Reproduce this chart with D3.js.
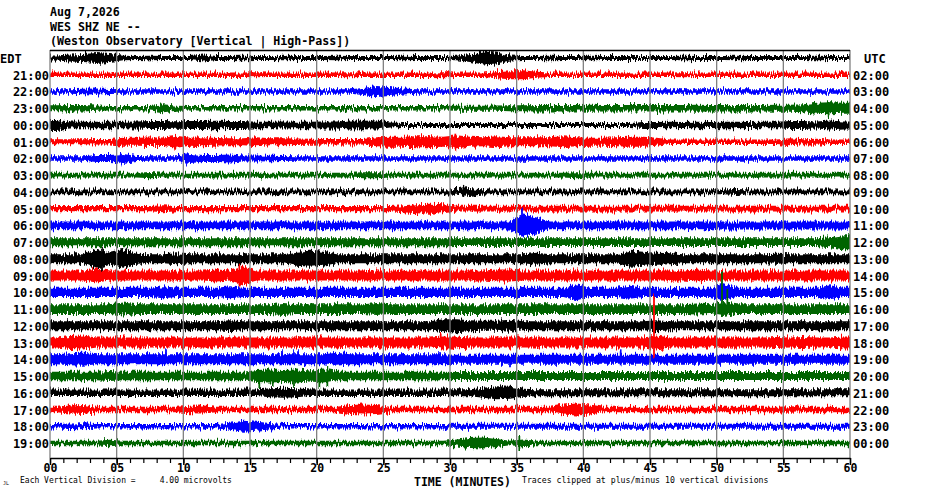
<!DOCTYPE html>
<html>
<head>
<meta charset="utf-8">
<script src="https://cdn.jsdelivr.net/npm/d3@7"></script>
<style>
  body { margin: 0; background: #fff; }
  text { font-family: "DejaVu Sans Mono", "Liberation Mono", monospace; }
</style>
</head>
<body>
<div id="chart"></div>
<script>
// header lines
const titleLines = ['Aug 7,2026', 'WES SHZ NE --', '(Weston Observatory [Vertical | High-Pass])'];

// hour labels, local (left) and UTC (right)
const edtLabels = ['EDT', '21:00', '22:00', '23:00', '00:00', '01:00', '02:00', '03:00', '04:00', '05:00', '06:00', '07:00',
  '08:00', '09:00', '10:00', '11:00', '12:00', '13:00', '14:00', '15:00', '16:00', '17:00', '18:00', '19:00'];
const utcLabels = ['UTC', '02:00', '03:00', '04:00', '05:00', '06:00', '07:00', '08:00', '09:00', '10:00', '11:00', '12:00',
  '13:00', '14:00', '15:00', '16:00', '17:00', '18:00', '19:00', '20:00', '21:00', '22:00', '23:00', '00:00'];

const traceColors = ['#000000', '#ff0000', '#0000ff', '#006400'];

// minute tick labels
const majorTicks = [0, 5, 10, 15, 20, 25, 30, 35, 40, 45, 50, 55, 60];
const minorTicks = [0, 1, 2, 3, 4, 5, 6, 7, 8, 9, 10, 11, 12, 13, 14, 15, 16, 17, 18, 19, 20, 21, 22, 23, 24, 25, 26, 27, 28, 29,
  30, 31, 32, 33, 34, 35, 36, 37, 38, 39, 40, 41, 42, 43, 44, 45, 46, 47, 48, 49, 50, 51, 52, 53, 54, 55, 56, 57, 58, 59, 60];

// half-amplitude of each trace, one value per minute
const amplitudes = [
  [2.5,3.5,4,5,4,2.2,2,2.3,2,2, 2,3.5,2,2,2.2,2,2,2.3,2,2, 2,2.2,2,2,2,2,2.2,2,2,2, 2.2,4,6.5,5.5,2.5,2,2,2.2,2,2, 2.2,2,2,2,2,2,2,2.2,2,2, 2,2.2,2,2,2,2,2,2.2,2,2],
  [2.3,2.3,2.3,2.3,2.3,2.3,2.3,2.3,2.3,2.3, 2.3,2.3,2.3,2.3,2.3,2.5,2.3,2.3,2.3,2.3, 2.3,2.3,2.5,2.3,2.3,2.3,2.3,2.3,2.3,2.5, 2.3,2.3,2.3,3.5,4.5,4.5,3,2.3,2.3,2.3, 2.3,2.3,2.3,2.3,2.3,2.3,2.3,2.5,2.3,2.3, 2.3,2.3,2.3,2.3,2.3,2.3,2.3,2.3,2.3,2.3],
  [2.2,2.2,2.8,3,2.5,2.2,2.2,2.2,2.2,2.2, 2.2,2.2,2.2,2.2,2.2,2.2,2.2,2.2,2.2,2.2, 2.2,2.2,2.2,3.5,5.5,4.5,3,2.2,2.2,2.2, 2.2,2.2,2.2,2.2,2.2,2.2,2.2,2.2,2.2,2.2, 2.2,2.2,2.2,2.2,2.2,2.2,2.2,2.2,2.2,2.2, 2.2,2.2,2.2,2.2,2.2,2.2,2.2,2.2,2.2,2.2],
  [3,3.2,3.2,2.6,2.3,2.3,2.3,2.3,4,2.5, 2.3,2.3,2.3,2.3,2.3,2.3,2.3,2.3,2.3,2.3, 2.3,2.3,2.3,2.3,2.3,2.3,2.3,2.3,2.3,2.3, 2.5,2.5,2.5,2.6,3,3,3.2,3.2,3.3,3.3, 3.5,3.3,3.3,3.3,3.3,3.3,3.3,3.3,3.5,3.3, 3.2,3.2,3.3,3.2,3.5,3.5,4,5.5,6,5.5],
  [5,3.5,3.3,3.2,3.3,3.2,3.5,4,4,3.8, 4,4,4.2,4,4,3.3,3.3,3.5,3.3,3.3, 3.5,3.5,4.5,4.2,4.5,2.5,2,2,2,2, 2,2,2,2,2,2,2,2,2,2, 2,2,2,2,3,3,3.2,3,3.2,3, 3.3,3.2,3,3.3,3.2,4,4,3.5,4.5,3.5],
  [2.5,2.5,2.5,2.8,2.8,4,4,4.2,4.2,6, 4,4.5,3.8,3.5,3.5,4.5,3.5,3.5,3.3,3, 2.8,2.8,2.8,2.8,4.5,5,5,5.5,5.5,5, 6.5,5,4.5,5.5,4.5,4.5,4.5,4.5,5.5,4.5, 4,4,4.5,5,5,4,2.3,2.3,2.3,2.3, 2.3,2.3,2.3,2.3,2.3,3.5,2.5,3,2.3,2.3],
  [2.3,2.3,2.3,3.5,3.5,4.5,2.5,2.3,2.3,2.3, 4.5,3.5,3.5,4,3,3,2.8,2.5,2.3,2.3, 2.2,2.2,2.2,2.2,2.2,2.2,2.2,2.2,2.2,2.2, 2.2,2.2,2.2,2.2,2.2,2.2,2.2,2.2,2.2,2.2, 2.2,2.2,2.2,2.2,2.2,2.2,2.2,2.2,2.2,2.2, 2.2,2.2,2.2,2.2,2.2,2.2,2.2,2.2,2.2,2.2],
  [2.3,2.3,2.3,2.3,2.3,2.3,2.3,3.2,2.3,2.3, 2.3,2.3,2.3,2.3,2.3,2.3,2.3,2.3,2.3,2.3, 2.3,2.3,2.3,3,3,2.3,2.3,2.3,2.3,2.3, 2.3,2.3,2.3,2.3,2.3,2.3,2.3,2.3,2.3,3, 2.3,2.3,2.3,2.3,2.3,2.3,2.3,2.3,2.3,2.3, 2.3,2.3,2.3,2.3,2.3,2.3,2.3,2.3,2.3,2.3],
  [2.3,2.3,2.3,2.3,2.3,2.3,2.3,2.3,2.3,2.3, 2.3,2.3,2.3,2.3,2.3,2.3,2.3,2.3,2.3,2.3, 2.3,2.3,2.3,2.3,2.3,2.3,2.3,2.3,2.3,2.3, 2.8,4,2.5,2.3,2.3,2.3,2.3,2.3,2.3,2.3, 2.3,2.3,2.3,2.3,2.3,2.3,2.3,2.3,2.3,2.3, 2.3,3,2.3,2.3,2.3,2.3,2.3,2.3,2.3,2.3],
  [2.6,2.6,2.6,2.6,2.6,2.6,2.6,2.6,3.5,2.6, 2.6,2.6,2.6,2.6,2.6,2.6,2.6,2.6,2.6,2.6, 2.6,2.6,2.6,2.6,2.6,2.6,3.5,4.5,5,4.5, 2.8,2.8,2.8,2.8,2.8,2.8,2.8,2.8,2.8,2.8, 2.8,2.8,2.8,2.8,2.8,2.8,2.8,2.8,2.8,2.8, 2.8,2.8,2.8,2.8,2.8,2.8,2.8,2.8,2.8,2.8],
  [3.8,3.8,3.8,3.8,3.8,3.8,3.8,3.8,3.8,3.8, 3.8,3.8,3.8,3.8,3.8,3.8,3.8,3.8,3.8,3.8, 3.8,3.8,3.8,3.8,3.8,3.8,3.8,3.8,3.8,3.8, 3.8,3.8,3.8,3.8,4,11,8,3.8,3.8,3.8, 3.8,3.8,3.8,3.8,3.8,3.8,3.8,3.8,3.8,3.8, 4,4,4,4,4,4,4,4,4,4],
  [4,4,4,4,4,4,4,4,4,4, 4,4,4,4,4,4,4,4,4,4, 4,4,4,4,4,4,4,4,4,4, 3.8,3.8,3.8,3.8,3.8,3.8,3.8,3.8,3.8,3.8, 3.8,3.8,3.8,3.8,3.8,3.8,3.8,3.8,3.8,3.8, 3.8,3.8,3.8,3.8,3.8,3.8,3.8,3.8,5,7],
  [4.5,4.5,4.5,10,6,9,5,4.5,4.5,5.5, 4.5,4.5,4.5,4.5,4.5,4.5,4.5,4.5,7,8, 7,4.5,4.5,4.5,4.5,4.5,4.5,4.5,4.5,4.5, 4.5,4.5,4.5,4.5,4.5,4.5,6,4.5,4.5,4.5, 4.5,4.5,4.5,8,7,6,5.5,4.5,4.5,4.5, 4.5,4.5,4.5,4.5,5,4.5,4.5,4.5,4.5,4.5],
  [5,5,5,7,5,5,5,5,5,5, 5,5,6,5,9,5,5,5,5,5, 5,5,5,5,5,5,5,5,5,5, 5,5,5,6,6,5,5,5,5,5, 5,5,5,5,5,5,5,5,6,5, 5,5,5,5,5,5,5,5,5,5],
  [4.7,4.7,4.7,4.7,4.7,4.7,4.7,4.7,6,4.7, 4.7,4.7,4.7,6,4.7,4.7,4.7,4.7,4.7,4.7, 4.7,4.7,4.7,4.7,4.7,4.7,4.7,4.7,4.7,4.7, 4.7,4.7,4.7,4.7,4.7,4.7,4.7,4.7,4.7,8, 4.7,4.7,4.7,6.5,4.7,4.7,4.7,4.7,4.7,4.7, 8,4.7,4.7,4.7,4.7,4.7,4.7,4.7,7,4.7],
  [4.8,4.8,4.8,4.8,4.8,6.5,4.8,4.8,4.8,4.8, 4.8,4.8,4.8,4.8,4.8,4.8,4.8,6,4.8,4.8, 4.8,4.8,4.8,4.8,6,4.8,4.8,4.8,4.8,4.8, 4.8,4.8,4.8,4.8,4.8,4.8,4.8,4.8,4.8,4.8, 4.8,4.8,4.8,4.8,4.8,4.8,4.8,4.8,5.5,4.8, 7,4.8,4.8,4.8,4.8,4.8,4.8,4.8,4.8,4.8],
  [4.5,4.5,4.5,4.5,4.5,4.5,4.5,4.5,4.5,4.5, 4.5,4.5,4.5,5.5,4.5,4.5,4.5,4.5,4.5,4.5, 4.5,4.5,4.5,4.5,4.5,4.5,4.5,4.5,4.5,6.5, 6.5,5.5,5,5,6,4.5,4.5,4.5,4.5,4.5, 4.5,4.5,4.5,4.5,4.5,5.5,4.5,4.5,4.5,4.5, 4.5,4.5,4.5,4.5,4.5,4.5,4.5,4.5,4.5,4.5],
  [5,6.5,7,5,5,5,5,5,5,5, 5,5,5,5,5,5,5,5,5,5, 5,5,5,5,5,5,5,5,5,6, 6,5,5,5,5,5,5,5,5,5, 5,5,5,5,5,7,5,5,5,5, 5,5,5,5,5.5,5,5.5,5,5,6],
  [5,6,6.5,5,5,5,5,5,5,5, 5,5,5,5,5,5,5,5,5,5, 5,6.5,5,5,5,5,5,5,5,5, 4.5,4.5,4.5,4.5,4.5,4.5,4.5,4.5,4.5,4.5, 4.5,4.5,4.5,4.5,4.5,4.5,4.5,4.5,4.5,4.5, 4.5,4.5,4.5,4.5,4.5,4.5,4.5,4.5,4.5,4.5],
  [4.3,4.3,4.3,4.3,5,4.3,4.3,4.3,4.3,4.3, 4.3,4.3,4.3,4.3,4.3,6,6.5,6,6.5,5.5, 6.5,4.3,4.3,4.3,4.3,4.3,4.3,4.3,4.3,4.3, 4,4,4,4,4,4,4,4,4,4, 4,4,4,4,4,4,4,4,4,4, 4,4,4,4,4,4,4,4,4,4],
  [3.3,3.3,3.3,3.3,3.3,3.3,3.3,3.3,3.3,3.3, 3.3,3.3,3.3,3.3,3.3,3.3,4.5,5,4.5,3.3, 3.3,3.3,3.3,3.3,3.3,3.3,3.3,3.3,3.3,3.3, 3.5,3.5,5,6.5,6,4,3.5,3.5,3.5,3.5, 3.5,3.5,3.5,3.5,3.5,3.5,3.5,3.5,3.5,3.5, 3.5,3.5,3.5,3.5,3.5,3.5,3.5,3.5,3.5,3.5],
  [2.8,4,4.5,2.8,2.8,2.8,2.8,2.8,2.8,2.8, 3.8,4,2.8,2.8,2.8,2.8,2.8,2.8,2.8,2.8, 2.8,2.8,4.5,5,4.5,2.8,2.8,2.8,2.8,2.8, 2.8,2.8,2.8,2.8,2.8,2.8,2.8,2.8,5,6, 5,2.8,2.8,2.8,2.8,2.8,2.8,2.8,2.8,2.8, 2.8,2.8,2.8,2.8,2.8,3.3,2.8,2.8,2.8,2.8],
  [2.3,2.8,3,2.3,2.3,2.3,2.3,2.3,2.3,2.3, 2.3,2.3,2.3,3.5,5.5,4.5,3.3,2.3,2.3,2.3, 2.3,2.3,2.3,2.3,2.3,2.3,2.3,2.3,2.3,2.3, 2.5,2.5,2.5,2.5,2.5,2.5,2.5,2.5,2.5,2.5, 2.5,2.5,2.5,2.5,2.5,2.5,2.5,2.5,2.5,2.5, 2.5,2.5,2.5,2.5,2.5,2.5,2.5,2.5,2.5,2.5],
  [2.3,2.3,2.3,2.3,3.2,2.3,2.3,2.3,2.3,2.3, 2.3,2.3,2.3,2.3,2.3,2.3,2.3,2.3,2.3,2.3, 2.3,2.3,2.3,2.3,2.3,2.3,2.3,2.3,2.3,2.3, 3.5,5,5.5,4,2.3,3.5,2.3,2.3,2.3,2.3, 2.3,2.3,2.3,2.3,2.3,2.3,2.3,2.3,2.3,2.3, 2.3,2.3,2.3,2.3,2.3,2.3,2.3,2.3,2.3,2.3]
];

// sharp single spikes: [row, minute, up, down]
const spikes = [
  [3, 58.4, 6, 9], [5, 9.4, 5, 8], [5, 30.4, 8, 9], [6, 5.3, 5, 6], [6, 10.2, 5, 6], [8, 31, 6, 5],
  [10, 35.4, 18, 11], [12, 3.9, 12, 12], [12, 5.7, 10, 9], [13, 14.2, 13, 11], [14, 50.3, 9, 7],
  [15, 50.4, 36, 6], [15, 50.8, 20, 6], [17, 29.3, 9, 5], [17, 45.3, 48, 15],
  [18, 8.7, 9, 5], [18, 17.4, 8, 4], [18, 18.3, 9, 4], [18, 18.6, 8, 4], [18, 34.5, 4, 8], [18, 42.8, 9, 7],
  [19, 15.7, 6, 12], [19, 16.7, 6, 10], [19, 18.3, 5, 11], [19, 20.2, 6, 12], [19, 20.8, 9, 10],
  [23, 35.2, 7, 6]
];

const svg = d3.select('#chart')
  .append('svg')
  .attr('width', 930)
  .attr('height', 494);

// rough edges for the traces
const filter = svg.append('defs').append('filter')
  .attr('id', 'jag')
  .attr('filterUnits', 'userSpaceOnUse')
  .attr('x', 0).attr('y', 0).attr('width', 930).attr('height', 494)
  .attr('color-interpolation-filters', 'sRGB');
filter.append('feTurbulence')
  .attr('type', 'fractalNoise')
  .attr('baseFrequency', '1.3 0.05')
  .attr('numOctaves', 2)
  .attr('seed', 4)
  .attr('result', 'n');
filter.append('feColorMatrix')
  .attr('in', 'n')
  .attr('type', 'matrix')
  .attr('values', '0 0 0 0 0.5  0 1 0 0 0  0 0 0 0 0  0 0 0 0 1')
  .attr('result', 'm');
filter.append('feDisplacementMap')
  .attr('in', 'SourceGraphic')
  .attr('in2', 'm')
  .attr('scale', 9)
  .attr('xChannelSelector', 'R')
  .attr('yChannelSelector', 'G');

const x = d3.scaleLinear().domain([0, 60]).range([50, 850]);
const y = d3.scaleLinear().domain([0, 23]).range([58, 443]);
const a = d3.scaleLinear().domain([0, 10]).range([0, 10]);
const color = i => traceColors[i % 4];

// header
svg.selectAll('.title')
  .data(titleLines)
  .join('text')
  .attr('class', 'title')
  .attr('x', 50)
  .attr('y', (d, i) => 16 + i * 14.5)
  .attr('font-size', 11.6)
  .attr('font-weight', 'bold')
  .style('white-space', 'pre')
  .text(d => d);

// traces
const traces = svg.append('g').attr('filter', 'url(#jag)');
amplitudes.forEach((vals, r) => {
  const pts = [{ t: 0, v: vals[0] }]
    .concat(vals.map((v, i) => ({ t: i + 0.5, v })))
    .concat([{ t: 60, v: vals[vals.length - 1] }]);
  const area = d3.area()
    .x(d => x(d.t))
    .y0(d => y(r) + a(d.v))
    .y1(d => y(r) - a(d.v));
  traces.append('path')
    .datum(pts)
    .attr('d', area)
    .attr('fill', color(r));
});

traces.selectAll('.spike')
  .data(spikes)
  .join('line')
  .attr('class', 'spike')
  .attr('x1', d => x(d[1]))
  .attr('x2', d => x(d[1]))
  .attr('y1', d => y(d[0]) - a(d[2]))
  .attr('y2', d => y(d[0]) + a(d[3]))
  .attr('stroke', d => color(d[0]))
  .attr('stroke-width', 1.8);

// vertical 5-minute grid
svg.selectAll('.grid')
  .data(majorTicks)
  .join('line')
  .attr('class', 'grid')
  .attr('x1', d => x(d)).attr('x2', d => x(d))
  .attr('y1', 50).attr('y2', 458)
  .attr('stroke', '#808080')
  .attr('stroke-width', 1.3);

// top frame line
svg.append('line')
  .attr('x1', x(0)).attr('x2', x(60))
  .attr('y1', 50.5).attr('y2', 50.5)
  .attr('stroke', '#000')
  .attr('stroke-width', 1.5);

// minute axis
const minorAxis = svg.append('g')
  .attr('transform', 'translate(0,458)')
  .call(d3.axisBottom(x).tickValues(minorTicks).tickSize(5).tickSizeOuter(0).tickFormat(''));
minorAxis.select('.domain').attr('stroke-width', 1.5);
minorAxis.selectAll('.tick line').attr('stroke-width', 1.2);

const majorAxis = svg.append('g')
  .attr('transform', 'translate(0,458)')
  .call(d3.axisBottom(x).tickValues(majorTicks).tickSize(7).tickSizeOuter(0).tickFormat(d3.format('02d')));
majorAxis.select('.domain').remove();
majorAxis.selectAll('.tick line').attr('stroke-width', 1.5);
majorAxis.selectAll('.tick text')
  .attr('y', 5.5)
  .attr('font-family', '"DejaVu Sans Mono", monospace')
  .attr('font-size', 11.5)
  .attr('font-weight', 'bold')
  .attr('fill', '#000');

// row labels
svg.selectAll('.edt')
  .data(edtLabels)
  .join('text')
  .attr('class', 'edt')
  .attr('x', (d, i) => i === 0 ? 0 : 49)
  .attr('y', (d, i) => y(i) + 5)
  .attr('text-anchor', (d, i) => i === 0 ? 'start' : 'end')
  .attr('font-size', 12)
  .attr('font-weight', 'bold')
  .text(d => d);

svg.selectAll('.utc')
  .data(utcLabels)
  .join('text')
  .attr('class', 'utc')
  .attr('x', (d, i) => i === 0 ? 864 : 853)
  .attr('y', (d, i) => y(i) + 5)
  .attr('font-size', 12)
  .attr('font-weight', 'bold')
  .text(d => d);

// footer
svg.append('text')
  .attr('x', 414).attr('y', 486)
  .attr('font-size', 11.5)
  .attr('font-weight', 'bold')
  .text('TIME (MINUTES)');

svg.append('text')
  .attr('x', 3).attr('y', 485)
  .attr('font-size', 5)
  .text('JL');

svg.append('text')
  .attr('x', 20).attr('y', 483)
  .attr('font-size', 8)
  .style('white-space', 'pre')
  .text('Each Vertical Division =     4.00 microvolts');

svg.append('text')
  .attr('x', 522).attr('y', 483)
  .attr('font-size', 8.2)
  .style('white-space', 'pre')
  .text('Traces clipped at plus/minus 10 vertical divisions');
</script>
</body>
</html>
